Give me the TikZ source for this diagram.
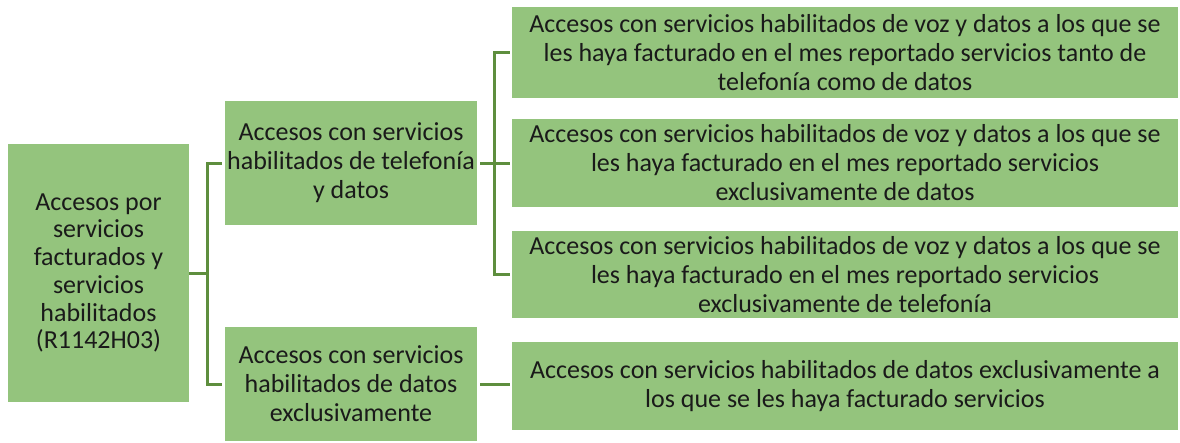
\documentclass[tikz,border=0pt]{standalone}
\usepackage{fontspec}
\setmainfont{Carlito}
\definecolor{boxfill}{HTML}{94C47D}
\definecolor{linecol}{HTML}{5E8E3E}
\definecolor{txt}{HTML}{1A1A1A}
\begin{document}
\begin{tikzpicture}[x=1pt,y=-1pt,
  box/.style={draw=none,fill=boxfill,align=center,inner sep=0pt,text=txt,
    font=\fontsize{26}{29}\selectfont},
  conn/.style={draw=linecol,line width=3pt}]
\useasboundingbox (0,0) rectangle (1180,442);
\node[box,minimum width=181pt,minimum height=258pt,font=\fontsize{26}{27.7}\selectfont] (root) at (98.5,273)
  {Accesos por\\servicios\\facturados y\\servicios\\habilitados\\(R1142H03)};
\node[box,minimum width=252pt,minimum height=124pt] (m1) at (351,163)
  {Accesos con servicios\\habilitados de telefonía\\y datos};
\node[box,minimum width=252pt,minimum height=114pt] (m2) at (351,384)
  {Accesos con servicios\\habilitados de datos\\exclusivamente};
\node[box,minimum width=666pt,minimum height=91pt] (r1) at (845,52.5)
  {Accesos con servicios habilitados de voz y datos a los que se\\les haya facturado en el mes reportado servicios tanto de\\telefonía como de datos};
\node[box,minimum width=666pt,minimum height=88pt] (r2) at (845,163)
  {Accesos con servicios habilitados de voz y datos a los que se\\les haya facturado en el mes reportado servicios\\exclusivamente de datos};
\node[box,minimum width=666pt,minimum height=87pt] (r3) at (845,274.5)
  {Accesos con servicios habilitados de voz y datos a los que se\\les haya facturado en el mes reportado servicios\\exclusivamente de telefonía};
\node[box,minimum width=666pt,minimum height=88pt] (r4) at (845,386)
  {Accesos con servicios habilitados de datos exclusivamente a\\los que se les haya facturado servicios};
% connectors
\coordinate (j1) at (207,273);
\coordinate (j2) at (494,163);
\draw[conn] (root.east) -- (j1);
\draw[conn] ([xshift=-3pt]m1.west) -| (j1) |- ([xshift=-3pt]m2.west);
\draw[conn] ([xshift=3pt]m1.east) -- (j2);
\draw[conn] ([xshift=-2pt]r1.west) -| (j2) |- ([xshift=-2pt]r3.west);
\draw[conn] (j2) -- ([xshift=-2pt]r2.west);
\draw[conn] ([xshift=3pt]m2.east) -- ([xshift=-2pt]r4.west |- m2.east);
\end{tikzpicture}
\end{document}
